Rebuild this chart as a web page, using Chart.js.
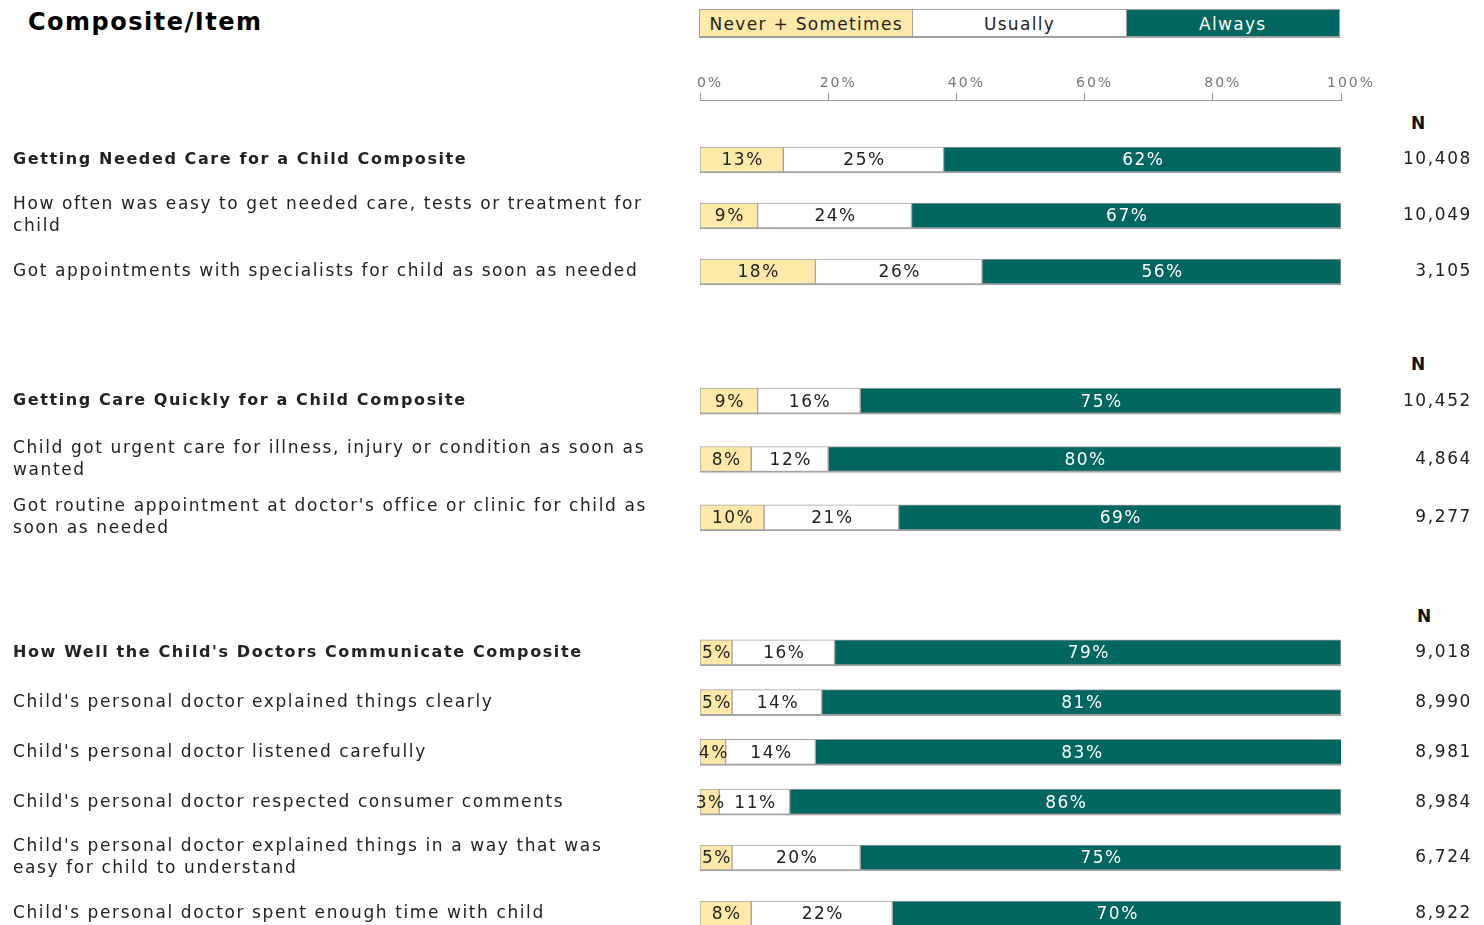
<!DOCTYPE html>
<html>
<head>
<meta charset="utf-8">
<title>Composite/Item</title>
<script src="https://cdn.jsdelivr.net/npm/chart.js@4.4.1/dist/chart.umd.min.js"></script>
<style>
  html, body { margin: 0; padding: 0; background: #fff; }
  body { width: 1484px; height: 925px; overflow: hidden; position: relative;
         font-family: "DejaVu Sans", Verdana, sans-serif; color: #222; }
  .abs { position: absolute; }
  #title { left: 28px; top: 8px; font-size: 24px; font-weight: bold; color: #000; letter-spacing: 1.5px; }
  #legend { left: 699px; top: 9px; width: 639px; height: 26px; display: flex;
            border: 1px solid #a0a0a0; border-bottom-width: 2px; }
  #legend div { flex: 1; text-align: center; line-height: 28px; font-size: 17px; letter-spacing: 1.3px; }
  .nhead { font-weight: bold; font-size: 17px; line-height: 20px; color: #111; }
  canvas { position: absolute; left: 0; }
</style>
</head>
<body>
<div id="title" class="abs">Composite/Item</div>
<div id="legend" class="abs"></div>
<div class="abs nhead" style="left:1411px; top:113px">N</div>
<div class="abs nhead" style="left:1411px; top:354px">N</div>
<div class="abs nhead" style="left:1417px; top:606px">N</div>
<canvas id="axis"></canvas>
<canvas id="needed"></canvas>
<canvas id="quickly"></canvas>
<canvas id="communicate"></canvas>
<canvas id="communicate2"></canvas>
<script>
const legendLabels = ["Never + Sometimes", "Usually", "Always"];
const axisTicks = [0, 20, 40, 60, 80, 100];

const neededLabels = [
  "Getting Needed Care for a Child Composite",
  ["How often was easy to get needed care, tests or treatment for", "child"],
  "Got appointments with specialists for child as soon as needed"
];
const neededNever = [13, 9, 18];
const neededUsually = [25, 24, 26];
const neededAlways = [62, 67, 56];
const neededN = ["10,408", "10,049", "3,105"];

const quicklyLabels = [
  "Getting Care Quickly for a Child Composite",
  ["Child got urgent care for illness, injury or condition as soon as", "wanted"],
  ["Got routine appointment at doctor's office or clinic for child as", "soon as needed"]
];
const quicklyNever = [9, 8, 10];
const quicklyUsually = [16, 12, 21];
const quicklyAlways = [75, 80, 69];
const quicklyN = ["10,452", "4,864", "9,277"];

const commLabels = [
  "How Well the Child's Doctors Communicate Composite",
  "Child's personal doctor explained things clearly",
  "Child's personal doctor listened carefully",
  "Child's personal doctor respected consumer comments",
  ["Child's personal doctor explained things in a way that was", "easy for child to understand"],
  "Child's personal doctor spent enough time with child"
];
const commNever = [5, 5, 4, 3, 5, 8];
const commUsually = [16, 14, 14, 11, 20, 22];
const commAlways = [79, 81, 83, 86, 75, 70];
const commN = ["9,018", "8,990", "8,981", "8,984", "6,724", "8,922"];

const FONT = '"DejaVu Sans", Verdana, sans-serif';
const YELLOW = "#ffe9a8";
const TEAL = "#006660";
const EDGE = "#a3a3a3";
const colors = [YELLOW, "#ffffff", TEAL];

// legend strip drawn as html boxes, like the original
const legendEl = document.getElementById("legend");
legendLabels.forEach((t, i) => {
  const d = document.createElement("div");
  d.textContent = t;
  d.style.background = colors[i];
  d.style.color = i === 2 ? "#fff" : "#222";
  if (i > 0) d.style.borderLeft = "1px solid " + EDGE;
  legendEl.appendChild(d);
});

// widen text a little, the reference type is quite loose
const spacing = {
  id: "spacing",
  beforeDraw(chart) { chart.ctx.letterSpacing = chart.options.textSpacing || "1.6px"; }
};

const valueLabels = {
  id: "valueLabels",
  afterDatasetsDraw(chart) {
    const ctx = chart.ctx;
    ctx.save();
    ctx.letterSpacing = "1.5px";
    ctx.font = "17px " + FONT;
    ctx.textAlign = "center";
    ctx.textBaseline = "middle";
    chart.data.datasets.forEach((ds, i) => {
      chart.getDatasetMeta(i).data.forEach((bar, j) => {
        ctx.fillStyle = i === 2 ? "#ffffff" : "#222222";
        ctx.fillText(ds.data[j] + "%", (bar.x + bar.base) / 2 + 1, bar.y + 1);
      });
    });
    ctx.restore();
  }
};

function sizeCanvas(id, top, height) {
  const c = document.getElementById(id);
  c.width = 1484;
  c.height = height;
  c.style.top = top + "px";
  return c;
}

// percentage axis on top
new Chart(sizeCanvas("axis", 55, 50), {
  type: "scatter",
  data: { datasets: [] },
  options: {
    responsive: false,
    animation: false,
    textSpacing: "2px",
    layout: { padding: { left: 700, right: 143, top: 0, bottom: 0 } },
    plugins: { legend: { display: false }, tooltip: { enabled: false } },
    scales: {
      x: {
        type: "linear", position: "top", min: 0, max: 100, offset: false,
        afterBuildTicks: (s) => { s.ticks = axisTicks.map((v) => ({ value: v })); },
        ticks: { callback: (v) => v + "%", color: "#777", font: { family: FONT, size: 14 }, labelOffset: 10, padding: 1, maxRotation: 0 },
        grid: { drawOnChartArea: false, offset: false, tickLength: 7, color: "#999" },
        border: { color: "#999" },
        afterFit: (s) => { s.height = 45; }
      },
      y: { display: false }
    }
  },
  plugins: [spacing]
});

function groupChart(id, top, height, labels, never, usually, always, counts) {
  return new Chart(sizeCanvas(id, top, height), {
    type: "bar",
    data: {
      labels: labels,
      datasets: [
        { label: legendLabels[0], data: never, backgroundColor: colors[0] },
        { label: legendLabels[1], data: usually, backgroundColor: colors[1] },
        { label: legendLabels[2], data: always, backgroundColor: colors[2] }
      ]
    },
    options: {
      indexAxis: "y",
      responsive: false,
      animation: false,
      layout: { padding: { left: 13, right: 12, top: 0, bottom: 0 } },
      datasets: {
        bar: {
          barThickness: 26,
          borderColor: EDGE,
          borderWidth: { top: 1, right: 1, bottom: 2, left: 1 },
          borderSkipped: false
        }
      },
      plugins: { legend: { display: false }, tooltip: { enabled: false } },
      scales: {
        x: { stacked: true, min: 0, max: 100, display: false },
        y: {
          stacked: true,
          position: "left",
          grid: { display: false },
          border: { display: false },
          ticks: {
            crossAlign: "far",
            color: "#222",
            font: (c) => {
              const bold = String(c.tick && c.tick.label).endsWith("Composite");
              return { family: FONT, size: bold ? 16 : 17, lineHeight: bold ? 1.4 : 1.3, weight: bold ? "bold" : "normal" };
            }
          },
          afterFit: (s) => { s.width = 687; s.paddingTop = 0; s.paddingBottom = 0; }
        },
        n: {
          type: "category",
          axis: "y",
          labels: counts,
          position: "right",
          offset: true,
          grid: { display: false },
          border: { display: false },
          ticks: { crossAlign: "far", color: "#222", font: { family: FONT, size: 17 } },
          afterFit: (s) => { s.width = 131; s.paddingTop = 0; s.paddingBottom = 0; }
        }
      }
    },
    plugins: [spacing, valueLabels]
  });
}

groupChart("needed", 132, 168, neededLabels, neededNever, neededUsually, neededAlways, neededN);
groupChart("quickly", 372, 175, quicklyLabels, quicklyNever, quicklyUsually, quicklyAlways, quicklyN);
groupChart("communicate", 628, 199,
  commLabels.slice(0, 4), commNever.slice(0, 4), commUsually.slice(0, 4), commAlways.slice(0, 4), commN.slice(0, 4));
groupChart("communicate2", 830, 112,
  commLabels.slice(4), commNever.slice(4), commUsually.slice(4), commAlways.slice(4), commN.slice(4));
</script>
</body>
</html>
